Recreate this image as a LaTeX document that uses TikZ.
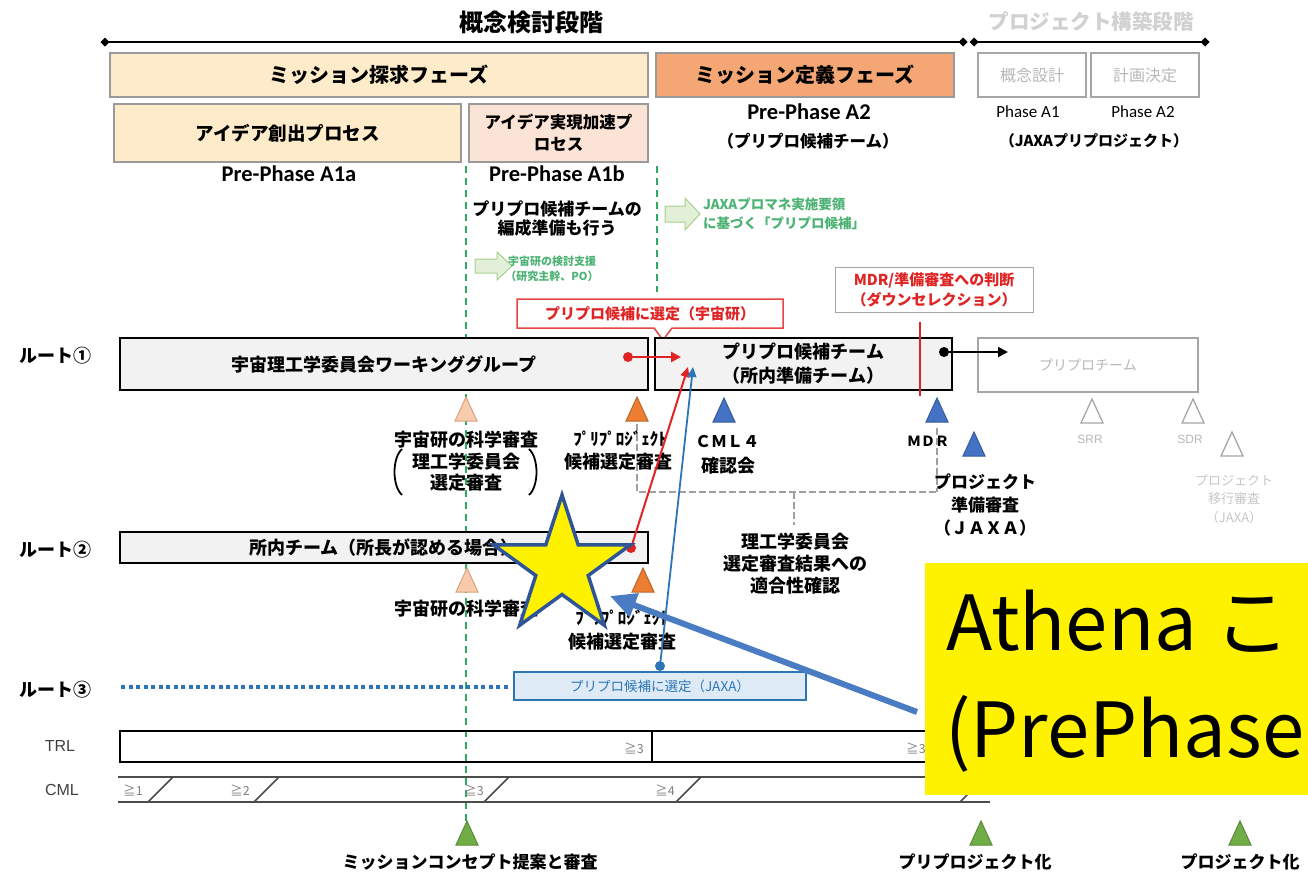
\documentclass[tikz,border=0pt]{standalone}
\usepackage{fontspec}
\setmainfont{Noto Sans CJK JP}
\newfontfamily\calfont{Carlito}
\newfontfamily\arialfont{Liberation Sans}
\usetikzlibrary{arrows.meta,shapes.geometric}
\definecolor{peach}{HTML}{FDEBC9}
\definecolor{pinkpeach}{HTML}{FBE3D6}
\definecolor{orangebox}{HTML}{F4A775}
\definecolor{boxgray}{HTML}{F2F2F2}
\definecolor{hdrline}{HTML}{9A9A9A}
\definecolor{grnline}{HTML}{2EAA62}
\definecolor{grntext}{HTML}{4DB374}
\definecolor{grnfill}{HTML}{E2F0D9}
\definecolor{grnedge}{HTML}{A9D18E}
\definecolor{redc}{HTML}{E02424}
\definecolor{bluec}{HTML}{2E75B6}
\definecolor{bluetri}{HTML}{4472C4}
\definecolor{lightblue}{HTML}{DEEBF7}
\definecolor{tripeach}{HTML}{F8CBAD}
\definecolor{tripeachedge}{HTML}{D9A27E}
\definecolor{triorange}{HTML}{ED7D31}
\definecolor{trigreen}{HTML}{70AD47}
\definecolor{faint}{HTML}{B8B8B8}
\definecolor{faintline}{HTML}{A6A6A6}
\definecolor{stardark}{HTML}{2F5597}
\definecolor{arrowblue}{HTML}{4A7CC4}
\definecolor{dashgray}{HTML}{A0A0A0}
\newcommand\jf[2]{\fontsize{#1}{#2}\selectfont}
\begin{document}
\begin{tikzpicture}[x=1pt,y=-1pt,
  every node/.style={inner sep=0pt,outer sep=0pt},
  hbox/.style={draw=hdrline,line width=1.2pt,font=\bfseries\jf{20}{22}},
  gbox/.style={draw=faintline,line width=1.2pt,fill=white,text=faint,font=\jf{16}{18}},
  rbox/.style={draw=black,line width=2.2pt,fill=boxgray,font=\bfseries\jf{18}{24},align=center},
  rlabel/.style={font=\bfseries\jf{18}{20}},
  lab/.style={font=\bfseries\jf{18}{22},align=center},
  hank/.style={font=\bfseries\jf{17}{17}},
  tri/.pic={\path[pic actions] (-11,24) -- (0,0) -- (11,24) -- cycle;},
  tpeach/.style={fill=tripeach,draw=tripeachedge,line width=1pt},
  torange/.style={fill=triorange,draw=triorange!80!black,line width=1pt},
  tblue/.style={fill=bluetri,draw=bluetri!80!black,line width=1pt},
  thollow/.style={fill=white,draw=faintline,line width=1.3pt},
  tgreen/.style={fill=trigreen,draw=trigreen!80!black,line width=1pt},
  gdash/.style={grnline,line width=2pt,dash pattern=on 7pt off 5pt},
  graydash/.style={dashgray,line width=2.5pt,dash pattern=on 7pt off 3pt},
  dotnode/.style={circle,minimum size=10pt},
  ge/.style={font=\jf{12.5}{12.5},text=gray},
  garrow/.style={fill=grnfill,draw=grnedge,line width=1pt},
]
\useasboundingbox (0,0) rectangle (1308,876);
\fill[white] (0,0) rectangle (1308,876);

% ---------- top stage line ----------
\node[font=\bfseries\jf{24}{24}] (title) at (531,22) {概念検討段階};
\node[font=\bfseries\jf{20.5}{22},text=black!18] (title2) at (1091,22) {プロジェクト構築段階};
\node[diamond,fill=black,minimum size=9pt] (d1) at (105,42) {};
\node[diamond,fill=black,minimum size=9pt] (d2) at (963,42) {};
\node[diamond,fill=black,minimum size=9pt] (d3) at (974,42) {};
\node[diamond,fill=black,minimum size=9pt] (d4) at (1205,42) {};
\draw[line width=1.6pt] (d1.center) -- (d2.center);
\draw[line width=1.6pt] (d3.center) -- (d4.center);

% ---------- phase boxes ----------
\node[hbox,fill=peach,minimum width=538pt,minimum height=44pt] (explore) at (379,75) {ミッション探求フェーズ};
\node[hbox,fill=orangebox,minimum width=298pt,minimum height=44pt] (define) at (805,75) {ミッション定義フェーズ};
\node[gbox,minimum width=108pt,minimum height=44pt] (concept) at (1032,75) {概念設計};
\node[gbox,minimum width=108pt,minimum height=44pt] (plan) at (1145,75) {計画決定};
\node[hbox,fill=peach,minimum width=347pt,minimum height=58pt,font=\bfseries\jf{18.5}{22}] (idea) at (287.5,133) {アイデア創出プロセス};
\node[hbox,fill=pinkpeach,minimum width=179pt,minimum height=58pt,align=center,font=\bfseries\jf{16.5}{22}] (accel) at (558.5,133) {アイデア実現加速プ\\ロセス};

\node[font=\calfont\bfseries\jf{22.5}{24}] (a1a) at (289,174) {Pre-Phase A1a};
\node[font=\calfont\bfseries\jf{22.5}{24}] (a1b) at (557,174) {Pre-Phase A1b};
\node[font=\calfont\bfseries\jf{22.5}{24}] (a2) at (809,112) {Pre-Phase A2};
\node[font=\calfont\jf{17}{18}] (pa1) at (1028,112) {Phase A1};
\node[font=\calfont\jf{17}{18}] (pa2) at (1143,112) {Phase A2};
\node[font=\bfseries\jf{16.5}{18}] (ppteam) at (808,141) {（プリプロ候補チーム）};
\node[font=\bfseries\jf{15}{18}] (jaxapp) at (1094,141) {（JAXAプリプロジェクト）};

% ---------- green dashed separators ----------
\coordinate (g1a) at (466,166); \coordinate (g1b) at (466,822);
\coordinate (g2a) at (657,166); \coordinate (g2b) at (657,292);
\draw[gdash] (g1a) -- (g1b);
\draw[gdash] (g2a) -- (g2b);

\node[font=\bfseries\jf{17}{19},align=center] (prep) at (557,219) {プリプロ候補チームの\\編成準備も行う};
\draw[garrow] (475,259) -- (497,259) -- (497,252) -- (512,266) -- (497,280) -- (497,273) -- (475,273) -- cycle;
\node[font=\bfseries\jf{11}{15},text=grntext,align=center] (support) at (552,269) {宇宙研の検討支援\\（研究主幹、PO）};
\draw[garrow] (665,206) -- (685,206) -- (685,198) -- (700,214) -- (685,230) -- (685,222) -- (665,222) -- cycle;
\node[font=\bfseries\jf{13.5}{19},text=grntext,align=left,anchor=west] (jaxarule) at (703,214) {JAXAプロマネ実施要領\\に基づく「プリプロ候補」};

% ---------- decision box and callout ----------
\node[draw=black!35,line width=1pt,fill=white,minimum width=198pt,minimum height=45pt,text=redc,font=\bfseries\jf{15}{20},align=center] (mdrj) at (934,289.5) {MDR/準備審査への判断\\（ダウンセレクション）};
\draw[redc!85,line width=1.5pt,fill=white] (517,299) -- (783,299) -- (783,328) -- (672,328) -- (663,340) -- (654,328) -- (517,328) -- cycle;
\node[text=redc,font=\bfseries\jf{15}{15}] (ucsel) at (650,313.5) {プリプロ候補に選定（宇宙研）};

% ---------- route 1 ----------
\node[rlabel] (r1) at (55,356) {ルート①};
\node[rbox,minimum width=528pt,minimum height=52pt] (wg) at (384,364) {宇宙理工学委員会ワーキンググループ};
\node[rbox,minimum width=297pt,minimum height=52pt] (ppt) at (803.5,364) {プリプロ候補チーム\\（所内準備チーム）};
\node[draw=faintline,line width=1.2pt,fill=white,minimum width=220pt,minimum height=54pt,text=faint,font=\jf{14}{16}] (ppteam2) at (1088,365) {プリプロチーム};
\coordinate (mdrtop) at (920,322); \coordinate (mdrbot) at (920,396);
\draw[redc,line width=2pt] (mdrtop) -- (mdrbot);

% gray dashed relation lines
\coordinate (gA) at (637,424); \coordinate (gB) at (637,492);
\coordinate (gC) at (937,492); \coordinate (gD) at (937,428);
\coordinate (gE) at (794,492); \coordinate (gF) at (794,525);
\draw[graydash] (gA) -- (gB) -- (gC);
\draw[graydash] (gD) -- (gC);
\draw[graydash] (gE) -- (gF);

% triangles row 1
\pic[tpeach] (t1) at (466,397) {tri};
\pic[torange] (t2) at (637,397) {tri};
\pic[tblue] (t3) at (724,398) {tri};
\pic[tblue] (t4) at (937,398) {tri};
\pic[thollow] (t5) at (1092,399) {tri};
\pic[thollow] (t6) at (1193,399) {tri};
\pic[tblue] (t7) at (974,432) {tri};
\pic[thollow] (t8) at (1232,432) {tri};

\node[lab] (sci1) at (466,440) {宇宙研の科学審査};
\node[lab] (sci1b) at (466,461.5) {理工学委員会};
\node[lab] (sci1c) at (466,483) {選定審査};
\draw[line width=1.8pt] (402,449) .. controls (392,458) and (392,486) .. (402,495);
\draw[line width=1.8pt] (529,449) .. controls (539,458) and (539,486) .. (529,495);
\node[hank] (pp1) at (620,439) {ﾌﾟﾘﾌﾟﾛｼﾞｪｸﾄ};
\node[lab] (pp1b) at (618,462) {候補選定審査};
\node[font=\bfseries\jf{16}{16}] (cml4) at (727,442) {ＣＭＬ４};
\node[lab] (cml4b) at (728,466) {確認会};
\node[font=\bfseries\jf{14}{14}] (mdr) at (928,441) {ＭＤＲ};
\node[font=\arialfont\jf{12}{12},text=faint] (srr) at (1090,439) {SRR};
\node[font=\arialfont\jf{12}{12},text=faint] (sdr) at (1190,439) {SDR};
\node[font=\bfseries\jf{17}{23},align=center] (prjrev) at (985,505) {プロジェクト\\準備審査\\（ＪＡＸＡ）};
\node[font=\jf{13}{18.5},text=black!22,align=center] (prjmove) at (1234,499) {プロジェクト\\移行審査\\（JAXA）};
\node[font=\bfseries\jf{18}{22},align=center] (conf) at (795,564) {理工学委員会\\選定審査結果への\\適合性確認};

% ---------- route 2 ----------
\node[rlabel] (r2) at (55,550) {ルート②};
\node[rbox,minimum width=528pt,minimum height=31pt] (inhouse) at (384,547.5) {所内チーム（所長が認める場合）};
\pic[tpeach] (t9) at (467,568) {tri};
\pic[torange] (t10) at (643,568) {tri};
\node[lab] (sci2) at (466,609) {宇宙研の科学審査};
\node[hank] (pp2) at (622,618) {ﾌﾟﾘﾌﾟﾛｼﾞｪｸﾄ};
\node[lab] (pp2b) at (622,642) {候補選定審査};

% red / blue selection arrows
\node[dotnode,fill=redc] (rd1) at (628,357) {};
\coordinate (rd1e) at (681,357);
\draw[redc,line width=2.5pt,-{Triangle[length=10pt,width=10pt]}] (rd1) -- (rd1e);
\node[dotnode,fill=redc] (rd2) at (631,548) {};
\coordinate (rd2e) at (688,367);
\draw[redc,line width=2pt,-{Triangle[length=10pt,width=9pt]}] (rd2) -- (rd2e);
\node[dotnode,fill=black] (bd1) at (944,352) {};
\coordinate (bd1e) at (1008,352);
\draw[line width=1.8pt,-{Triangle[length=10pt,width=10pt]}] (bd1) -- (bd1e);

% ---------- route 3 ----------
\node[rlabel] (r3) at (55,690) {ルート③};
\coordinate (dotA) at (121,687); \coordinate (dotB) at (510,687);
\draw[bluec,line width=4.5pt,dash pattern=on 4pt off 3.5pt] (dotA) -- (dotB);
\node[draw=bluec,fill=lightblue,line width=1.3pt,minimum width=292pt,minimum height=28pt,text=bluec,font=\jf{13.5}{14}] (jaxasel) at (660,686) {プリプロ候補に選定（JAXA）};
\node[dotnode,fill=bluec] (bd2) at (660,666) {};
\coordinate (bd2e) at (693,367);
\draw[bluec,line width=1.8pt,-{Triangle[length=10pt,width=9pt]}] (bd2) -- (bd2e);

% ---------- TRL / CML ----------
\node[font=\arialfont\jf{16}{16},text=black!75] (trl) at (60,746) {TRL};
\node[font=\arialfont\jf{16}{16},text=black!75] (cml) at (62,790) {CML};
\node[draw=black,line width=2pt,minimum width=880pt,minimum height=31pt] (trlbar) at (560,746.5) {};
\coordinate (trlA) at (652,731); \coordinate (trlB) at (652,762);
\draw[line width=1.6pt] (trlA) -- (trlB);
\node[ge] (trl3a) at (634,748) {≧3};
\node[ge] (trl3b) at (916,748) {≧3};
\draw[line width=1.6pt,black!70] (118,777) -- (990,777);
\draw[line width=1.6pt,black!70] (118,802) -- (990,802);
\foreach \sx in {148,254,484,676,960}
  \draw[line width=1.5pt,black!70] (\sx,802) -- (\sx+25,777);
\node[ge] (c1) at (133,790) {≧1};
\node[ge] (c2) at (240,790) {≧2};
\node[ge] (c3) at (474,790) {≧3};
\node[ge] (c4) at (665,790) {≧4};

% ---------- milestones ----------
\pic[tgreen] (m1) at (467,821) {tri};
\pic[tgreen] (m2) at (981,821) {tri};
\pic[tgreen] (m3) at (1240,821) {tri};
\node[font=\bfseries\jf{17}{18}] (mc1) at (470,862) {ミッションコンセプト提案と審査};
\node[font=\bfseries\jf{17}{18}] (mc2) at (975,862) {プリプロジェクト化};
\node[font=\bfseries\jf{17}{18}] (mc3) at (1240,862) {プロジェクト化};

% ---------- overlay: note, star, arrow ----------
\node[fill=yellow,minimum width=384pt,minimum height=232pt,anchor=north west] (athena) at (925,563) {};
\node[font=\jf{76}{76},anchor=base west] (ath1) at (946,650) {Athena こ};
\node[font=\jf{76}{76},anchor=base west] (ath2) at (945,757) {(PrePhase};

\draw[fill=yellow,draw=stardark,line width=3.5pt]
  (562,495) -- (578.2,544.8) -- (630.5,544.8) -- (588.2,575.5) -- (604.3,625.2)
  -- (562,594.5) -- (519.7,625.2) -- (535.8,575.5) -- (493.5,544.8) -- (545.8,544.8) -- cycle;
\coordinate (arrS) at (917,712);
\coordinate (arrT) at (610,596);
\draw[arrowblue,line width=6pt,-{Triangle[length=26pt,width=24pt]}] (arrS) -- (arrT);
\end{tikzpicture}
\end{document}
